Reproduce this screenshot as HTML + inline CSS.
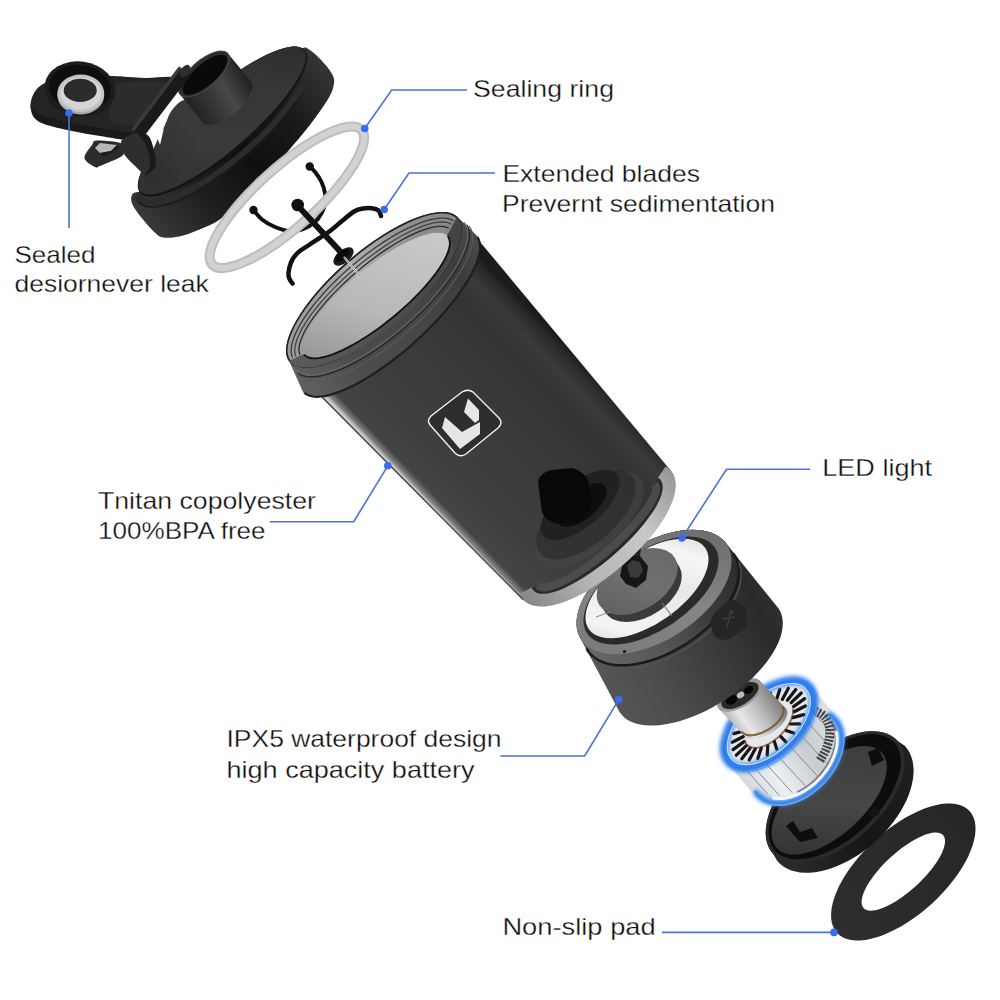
<!DOCTYPE html><html><head><meta charset="utf-8"><style>
html,body{margin:0;padding:0;background:#fff;width:1000px;height:1000px;overflow:hidden}
svg{display:block}
text{font-family:"Liberation Sans",sans-serif;font-size:24px;fill:#0e0e0e;stroke:#ffffff;stroke-width:0.3px}
</style></head><body>
<svg width="1000" height="1000" viewBox="0 0 1000 1000">
<defs>
<filter id="glow" x="-20%" y="-20%" width="140%" height="140%"><feGaussianBlur stdDeviation="2"/></filter>
<linearGradient id="padg" gradientUnits="userSpaceOnUse" x1="840" y1="930" x2="970" y2="810"><stop offset="0" stop-color="#2e2e2e"/><stop offset="1" stop-color="#262626"/></linearGradient>
<linearGradient id="dishside" gradientUnits="userSpaceOnUse" x1="780" y1="860" x2="910" y2="760"><stop offset="0" stop-color="#2a2a2a"/><stop offset="0.5" stop-color="#161616"/><stop offset="1" stop-color="#202020"/></linearGradient>
<linearGradient id="dishfloor" gradientUnits="userSpaceOnUse" x1="790" y1="845" x2="880" y2="760"><stop offset="0" stop-color="#333"/><stop offset="0.45" stop-color="#474747"/><stop offset="1" stop-color="#3c3c3c"/></linearGradient>
<linearGradient id="motorbody" gradientUnits="userSpaceOnUse" x1="740" y1="790" x2="850" y2="720"><stop offset="0" stop-color="#cfd4da"/><stop offset="0.3" stop-color="#eef0f2"/><stop offset="0.6" stop-color="#c8ccd0"/><stop offset="1" stop-color="#e6e8ea"/></linearGradient>
<linearGradient id="housing" gradientUnits="userSpaceOnUse" x1="720" y1="730" x2="780" y2="690"><stop offset="0" stop-color="#8a8a8a"/><stop offset="0.35" stop-color="#e8e8e8"/><stop offset="0.6" stop-color="#bdbdbd"/><stop offset="1" stop-color="#6a6a6a"/></linearGradient>
<linearGradient id="baseside" gradientUnits="userSpaceOnUse" x1="600" y1="700" x2="790" y2="600"><stop offset="0" stop-color="#575757"/><stop offset="0.3" stop-color="#4c4c4c"/><stop offset="0.6" stop-color="#3a3a3a"/><stop offset="0.85" stop-color="#2a2a2a"/><stop offset="1" stop-color="#333"/></linearGradient>
<linearGradient id="baselip" gradientUnits="userSpaceOnUse" x1="578" y1="660" x2="735" y2="545"><stop offset="0" stop-color="#6a6a6a"/><stop offset="0.4" stop-color="#555"/><stop offset="0.7" stop-color="#3a3a3a"/><stop offset="1" stop-color="#2a2a2a"/></linearGradient>
<linearGradient id="ledg" gradientUnits="userSpaceOnUse" x1="590" y1="640" x2="705" y2="545"><stop offset="0" stop-color="#cfcfcf"/><stop offset="0.2" stop-color="#f4f4f4"/><stop offset="0.55" stop-color="#e8e8e8"/><stop offset="0.8" stop-color="#f6f6f6"/><stop offset="1" stop-color="#d8d8d8"/></linearGradient>
<linearGradient id="baserim" gradientUnits="userSpaceOnUse" x1="580" y1="640" x2="720" y2="530"><stop offset="0" stop-color="#7a7a7a"/><stop offset="0.5" stop-color="#858585"/><stop offset="1" stop-color="#6a6a6a"/></linearGradient>
<linearGradient id="discg" gradientUnits="userSpaceOnUse" x1="600" y1="610" x2="675" y2="555"><stop offset="0" stop-color="#5e5e5e"/><stop offset="0.5" stop-color="#707070"/><stop offset="1" stop-color="#686868"/></linearGradient>
<linearGradient id="cupbody" gradientUnits="userSpaceOnUse" x1="420" y1="494" x2="569" y2="350"><stop offset="0" stop-color="#c8c8c8"/><stop offset="0.015" stop-color="#808080"/><stop offset="0.045" stop-color="#444"/><stop offset="0.25" stop-color="#3e3e3e"/><stop offset="0.55" stop-color="#393939"/><stop offset="0.8" stop-color="#333"/><stop offset="0.9" stop-color="#3a3a3a"/><stop offset="0.97" stop-color="#2a2a2a"/><stop offset="1" stop-color="#1c1c1c"/></linearGradient>
<linearGradient id="cupband" gradientUnits="userSpaceOnUse" x1="530" y1="600" x2="675" y2="480"><stop offset="0" stop-color="#8a8a8a"/><stop offset="0.3" stop-color="#b4b4b4"/><stop offset="0.7" stop-color="#c8c8c8"/><stop offset="1" stop-color="#9a9a9a"/></linearGradient>
<linearGradient id="neckg" gradientUnits="userSpaceOnUse" x1="290" y1="370" x2="470" y2="230"><stop offset="0" stop-color="#606060"/><stop offset="0.25" stop-color="#4c4c4c"/><stop offset="0.6" stop-color="#464646"/><stop offset="0.85" stop-color="#3c3c3c"/><stop offset="1" stop-color="#4a4a4a"/></linearGradient>
<linearGradient id="frontband" gradientUnits="userSpaceOnUse" x1="300" y1="360" x2="450" y2="240"><stop offset="0" stop-color="#5a5a5a"/><stop offset="0.5" stop-color="#4e4e4e"/><stop offset="1" stop-color="#444"/></linearGradient>
<linearGradient id="openg" gradientUnits="userSpaceOnUse" x1="310" y1="330" x2="430" y2="250"><stop offset="0" stop-color="#9a9a9a"/><stop offset="0.4" stop-color="#b8b8b8"/><stop offset="1" stop-color="#c8c8c8"/></linearGradient>
<linearGradient id="rimband" gradientUnits="userSpaceOnUse" x1="300" y1="260" x2="420" y2="330"><stop offset="0" stop-color="#9c9c9c"/><stop offset="0.5" stop-color="#acacac"/><stop offset="1" stop-color="#8a8a8a"/></linearGradient>
<linearGradient id="capsil" gradientUnits="userSpaceOnUse" x1="150" y1="232" x2="332" y2="70"><stop offset="0" stop-color="#3a3a3a"/><stop offset="0.25" stop-color="#202020"/><stop offset="0.5" stop-color="#0f0f0f"/><stop offset="0.75" stop-color="#1a1a1a"/><stop offset="1" stop-color="#363636"/></linearGradient>
<linearGradient id="capflange" gradientUnits="userSpaceOnUse" x1="140" y1="200" x2="330" y2="80"><stop offset="0" stop-color="#333"/><stop offset="0.5" stop-color="#262626"/><stop offset="1" stop-color="#1e1e1e"/></linearGradient>
<linearGradient id="capdomeside" gradientUnits="userSpaceOnUse" x1="170" y1="190" x2="320" y2="80"><stop offset="0" stop-color="#2a2a2a"/><stop offset="0.4" stop-color="#1c1c1c"/><stop offset="0.75" stop-color="#121212"/><stop offset="1" stop-color="#1a1a1a"/></linearGradient>
<linearGradient id="capdome" gradientUnits="userSpaceOnUse" x1="150" y1="185" x2="300" y2="55"><stop offset="0" stop-color="#2e2e2e"/><stop offset="0.35" stop-color="#3a3a3a"/><stop offset="0.7" stop-color="#363636"/><stop offset="1" stop-color="#2a2a2a"/></linearGradient>
<linearGradient id="spoutg" gradientUnits="userSpaceOnUse" x1="190" y1="118" x2="255" y2="80"><stop offset="0" stop-color="#1c1c1c"/><stop offset="0.35" stop-color="#353535"/><stop offset="0.6" stop-color="#484848"/><stop offset="0.85" stop-color="#2a2a2a"/><stop offset="1" stop-color="#1a1a1a"/></linearGradient>
</defs>
<rect width="1000" height="1000" fill="#fff"/>
<path d="M969.5,811.1 L971.8,814.0 L973.5,817.5 L974.8,821.3 L975.4,825.5 L975.5,830.0 L975.1,834.9 L974.1,840.1 L972.6,845.5 L970.5,851.1 L968.0,856.9 L964.9,862.7 L961.4,868.7 L957.4,874.7 L953.1,880.6 L948.3,886.5 L943.2,892.3 L937.8,897.9 L932.1,903.4 L926.3,908.5 L920.2,913.5 L914.0,918.1 L907.7,922.3 L901.4,926.2 L895.1,929.6 L888.9,932.6 L882.8,935.2 L876.8,937.2 L871.1,938.8 L865.6,939.9 L860.3,940.4 L855.4,940.5 L850.9,940.0 L846.8,939.0 L843.1,937.4 L839.8,935.4 L837.1,932.9 L834.8,930.0 L833.1,926.5 L831.8,922.7 L831.2,918.5 L831.1,914.0 L831.5,909.1 L832.5,903.9 L834.0,898.5 L836.1,892.9 L838.6,887.1 L841.7,881.3 L845.2,875.3 L849.2,869.3 L853.5,863.4 L858.3,857.5 L863.4,851.7 L868.8,846.1 L874.5,840.6 L880.3,835.5 L886.4,830.5 L892.6,825.9 L898.9,821.7 L905.2,817.8 L911.5,814.4 L917.7,811.4 L923.8,808.8 L929.8,806.8 L935.5,805.2 L941.0,804.1 L946.3,803.6 L951.2,803.5 L955.7,804.0 L959.8,805.0 L963.5,806.6 L966.8,808.6 L969.5,811.1Z M943.0,835.1 L944.0,836.5 L944.6,838.1 L945.0,840.0 L945.0,842.1 L944.7,844.5 L944.1,847.0 L943.2,849.8 L942.0,852.7 L940.5,855.7 L938.7,858.9 L936.6,862.2 L934.3,865.5 L931.8,868.9 L929.0,872.3 L926.1,875.7 L922.9,879.1 L919.6,882.4 L916.2,885.7 L912.7,888.8 L909.1,891.8 L905.5,894.6 L901.9,897.3 L898.2,899.8 L894.7,902.0 L891.1,904.0 L887.7,905.8 L884.4,907.3 L881.2,908.6 L878.2,909.5 L875.4,910.2 L872.8,910.6 L870.4,910.7 L868.3,910.5 L866.5,910.0 L864.9,909.2 L863.6,908.1 L862.6,906.7 L862.0,905.1 L861.6,903.2 L861.6,901.1 L861.9,898.7 L862.5,896.2 L863.4,893.4 L864.6,890.5 L866.1,887.5 L867.9,884.3 L870.0,881.0 L872.3,877.7 L874.8,874.3 L877.6,870.9 L880.5,867.5 L883.7,864.1 L887.0,860.8 L890.4,857.5 L893.9,854.4 L897.5,851.4 L901.1,848.6 L904.7,845.9 L908.4,843.4 L911.9,841.2 L915.5,839.2 L918.9,837.4 L922.2,835.9 L925.4,834.6 L928.4,833.7 L931.2,833.0 L933.8,832.6 L936.2,832.5 L938.3,832.7 L940.1,833.2 L941.7,834.0 L943.0,835.1Z" fill="url(#padg)" fill-rule="evenodd"/>
<polygon points="772.9,853.6 770.7,850.8 768.9,847.6 767.4,844.1 766.4,840.4 765.8,836.3 765.7,832.0 766.0,827.5 766.7,822.8 767.8,818.0 769.3,813.0 771.3,808.0 773.6,802.8 776.3,797.6 779.4,792.5 782.8,787.3 786.5,782.2 790.6,777.3 794.9,772.4 799.5,767.7 804.3,763.1 809.2,758.8 814.4,754.7 819.6,750.9 825.0,747.4 830.4,744.1 835.9,741.2 841.3,738.7 846.7,736.5 852.1,734.7 857.3,733.2 862.4,732.2 867.3,731.5 872.1,731.3 876.6,731.5 880.8,732.0 884.8,733.0 888.5,734.4 891.8,736.2 894.8,738.3 897.4,740.8 905.0,746.0 907.5,749.2 909.6,752.6 911.2,756.4 912.5,760.5 913.2,764.9 913.6,769.4 913.5,774.2 912.9,779.2 911.9,784.4 910.5,789.6 908.7,795.0 906.4,800.4 903.7,805.8 900.7,811.2 897.3,816.5 893.5,821.8 889.4,827.0 885.0,832.0 880.4,836.9 875.5,841.5 870.4,845.9 865.1,850.1 859.7,854.0 854.1,857.5 848.5,860.7 842.8,863.6 837.2,866.1 831.5,868.3 825.9,870.0 820.4,871.3 815.1,872.2 809.9,872.7 804.8,872.8 800.1,872.4 795.5,871.6 791.3,870.4 787.3,868.8 783.7,866.8 780.5,864.3 777.6,861.6" fill="url(#dishside)" />
<ellipse cx="835.2" cy="797.2" rx="84.0" ry="46.0" transform="rotate(-42.2 835.2 797.2)" fill="#2a2a2a" />
<ellipse cx="834.7" cy="796.7" rx="80.5" ry="42.5" transform="rotate(-42.2 834.7 796.7)" fill="#0c0c0c" />
<ellipse cx="829.2" cy="800.2" rx="71.0" ry="35.0" transform="rotate(-42.2 829.2 800.2)" fill="url(#dishfloor)" />
<polygon points="786.0,826.0 793.0,821.0 800.0,832.0 812.0,828.0 818.0,838.0 800.0,842.0" fill="#0e0e0e" />
<polygon points="868.0,752.0 878.0,748.0 884.0,760.0 872.0,766.0" fill="#0e0e0e" />
<polygon points="868.0,812.0 876.0,806.0 880.0,814.0 872.0,818.0" fill="#141414" />
<polygon points="727.7,763.6 726.0,761.6 724.7,759.5 723.6,757.1 722.8,754.5 722.3,751.7 722.1,748.8 722.1,745.7 722.5,742.4 723.1,739.1 724.0,735.7 725.2,732.2 726.7,728.6 728.4,725.0 730.4,721.4 732.6,717.9 735.0,714.3 737.7,710.9 740.5,707.5 743.5,704.2 746.7,701.0 749.9,698.0 753.4,695.1 756.9,692.4 760.4,689.9 764.1,687.7 767.7,685.6 771.4,683.8 775.1,682.2 778.7,680.9 782.2,679.9 785.7,679.1 789.1,678.6 792.3,678.4 795.4,678.5 798.3,678.8 801.1,679.4 803.6,680.3 806.0,681.5 808.1,683.0 809.9,684.6 835.5,715.7 837.6,717.9 839.4,720.4 841.0,723.1 842.3,726.0 843.3,729.1 844.0,732.4 844.5,735.8 844.6,739.4 844.4,743.0 843.9,746.8 843.2,750.6 842.1,754.4 840.8,758.3 839.2,762.1 837.3,766.0 835.2,769.7 832.8,773.4 830.2,777.0 827.4,780.4 824.4,783.7 821.2,786.9 817.9,789.8 814.4,792.6 810.9,795.1 807.2,797.4 803.5,799.5 799.7,801.3 795.9,802.8 792.1,804.0 788.3,804.9 784.6,805.6 781.0,805.9 777.4,806.0 774.0,805.7 770.7,805.1 767.5,804.2 764.6,803.1 761.8,801.6 759.2,799.9 756.9,797.9" fill="url(#motorbody)" />
<line x1="809.1" y1="697.4" x2="833.4" y2="725.5" stroke="#7a7e84" stroke-width="0.9"/>
<line x1="809.4" y1="708.0" x2="835.2" y2="737.0" stroke="#7a7e84" stroke-width="0.9"/>
<line x1="805.7" y1="720.1" x2="832.8" y2="750.0" stroke="#7a7e84" stroke-width="0.9"/>
<line x1="798.4" y1="732.6" x2="826.6" y2="763.3" stroke="#7a7e84" stroke-width="0.9"/>
<line x1="788.2" y1="744.3" x2="817.1" y2="775.6" stroke="#7a7e84" stroke-width="0.9"/>
<line x1="776.1" y1="754.0" x2="805.2" y2="785.7" stroke="#7a7e84" stroke-width="0.9"/>
<line x1="763.3" y1="760.8" x2="792.2" y2="792.5" stroke="#7a7e84" stroke-width="0.9"/>
<line x1="751.0" y1="764.0" x2="779.3" y2="795.4" stroke="#7a7e84" stroke-width="0.9"/>
<line x1="740.5" y1="763.3" x2="767.7" y2="794.2" stroke="#7a7e84" stroke-width="0.9"/>
<path d="M811.8,710.5 L813.2,710.7 L814.5,711.0 L815.9,711.4 L817.1,711.8 L818.4,712.3 L819.5,712.9 L820.7,713.5 L821.7,714.2 L822.7,715.0 L823.7,715.8 L824.6,716.7 L825.4,717.7 L826.1,718.7 L826.8,719.8 L827.4,721.0 L828.0,722.2 L828.5,723.4 L828.9,724.7 L829.2,726.1 L829.5,727.5 L829.7,728.9 L829.8,730.4 L829.9,731.9 L829.8,733.5 L829.7,735.0 L829.6,736.6 L829.3,738.3 L829.0,739.9 L828.6,741.6 L828.1,743.3 L827.6,745.0 L827.0,746.7 L826.3,748.4 L825.6,750.2 L824.8,751.9 L823.9,753.6 L823.0,755.3 L822.0,757.0 L821.0,758.7 L819.9,760.4" fill="none" stroke="#2a2a2a" stroke-width="9" stroke-dasharray="2 1.5" opacity="0.85"/>
<path d="M832.4,723.2 L833.2,724.6 L833.9,726.1 L834.5,727.6 L835.0,729.2 L835.4,730.9 L835.8,732.6 L836.0,734.4 L836.1,736.2 L836.2,738.1 L836.1,740.0 L836.0,741.9 L835.7,743.9 L835.4,745.9 L835.0,747.9 L834.4,750.0 L833.8,752.0 L833.1,754.0 L832.3,756.1 L831.4,758.1 L830.4,760.2 L829.4,762.2 L828.2,764.2 L827.0,766.2 L825.7,768.2 L824.3,770.1 L822.9,772.0 L821.4,773.9 L819.8,775.7 L818.2,777.4 L816.5,779.2 L814.8,780.8 L813.0,782.4 L811.2,783.9 L809.3,785.4 L807.4,786.8 L805.5,788.1 L803.6,789.4 L801.6,790.5 L799.6,791.6 L797.6,792.6" fill="none" stroke="#444" stroke-width="3" opacity="0.6"/>
<path d="M828.4,714.0 L831.1,715.7 L833.5,717.8 L835.6,720.1 L837.5,722.7 L839.0,725.5 L840.2,728.6 L841.0,731.9 L841.5,735.4 L841.7,739.1 L841.5,742.9 L841.0,746.8 L840.1,750.8 L838.9,754.8 L837.4,758.8 L835.6,762.8 L833.4,766.8 L831.0,770.7 L828.3,774.5 L825.4,778.2 L822.2,781.7 L818.9,785.0 L815.4,788.1 L811.7,790.9 L807.9,793.5 L804.0,795.8 L800.1,797.9 L796.1,799.6 L792.2,800.9 L788.2,802.0 L784.4,802.7 L780.6,803.0 L776.9,803.0 L773.4,802.7 L770.0,802.0 L766.9,800.9 L764.0,799.6 L761.3,797.9 L758.9,795.8 L756.8,793.5 L754.9,790.9" fill="none" stroke="#2f80ea" stroke-width="6" filter="url(#glow)"/>
<path d="M828.4,714.0 L831.1,715.7 L833.5,717.8 L835.6,720.1 L837.5,722.7 L839.0,725.5 L840.2,728.6 L841.0,731.9 L841.5,735.4 L841.7,739.1 L841.5,742.9 L841.0,746.8 L840.1,750.8 L838.9,754.8 L837.4,758.8 L835.6,762.8 L833.4,766.8 L831.0,770.7 L828.3,774.5 L825.4,778.2 L822.2,781.7 L818.9,785.0 L815.4,788.1 L811.7,790.9 L807.9,793.5 L804.0,795.8 L800.1,797.9 L796.1,799.6 L792.2,800.9 L788.2,802.0 L784.4,802.7 L780.6,803.0 L776.9,803.0 L773.4,802.7 L770.0,802.0 L766.9,800.9 L764.0,799.6 L761.3,797.9 L758.9,795.8 L756.8,793.5 L754.9,790.9" fill="none" stroke="#3d8af0" stroke-width="2.5"/>
<path d="M835.9,731.1 L836.5,733.1 L836.9,735.3 L837.1,737.5 L837.2,739.8 L837.1,742.2 L836.9,744.6 L836.6,747.0 L836.0,749.5 L835.4,752.0 L834.6,754.6 L833.6,757.1 L832.5,759.7 L831.3,762.2 L829.9,764.7 L828.4,767.2 L826.8,769.7 L825.1,772.1 L823.3,774.4 L821.4,776.7 L819.3,778.9 L817.2,781.0 L815.0,783.1 L812.8,785.0 L810.5,786.8 L808.1,788.5 L805.7,790.1 L803.2,791.6 L800.7,793.0 L798.2,794.2 L795.7,795.2 L793.2,796.2 L790.7,796.9 L788.3,797.6 L785.8,798.0 L783.4,798.4 L781.1,798.5 L778.8,798.5 L776.5,798.4 L774.4,798.1 L772.3,797.7" fill="none" stroke="#f4f8fc" stroke-width="3"/>
<ellipse cx="768.8" cy="724.1" rx="54.0" ry="29.5" transform="rotate(-43.8 768.8 724.1)" fill="#e6e9ec" />
<line x1="791.2" y1="702.6" x2="801.3" y2="693.0" stroke="#151515" stroke-width="3.2" stroke-linecap="round"/>
<line x1="793.5" y1="706.6" x2="804.6" y2="698.6" stroke="#151515" stroke-width="3.2" stroke-linecap="round"/>
<line x1="794.1" y1="711.7" x2="805.4" y2="706.0" stroke="#151515" stroke-width="3.2" stroke-linecap="round"/>
<line x1="792.9" y1="717.6" x2="803.8" y2="714.6" stroke="#151515" stroke-width="3.2" stroke-linecap="round"/>
<line x1="790.2" y1="724.0" x2="799.7" y2="723.8" stroke="#151515" stroke-width="3.2" stroke-linecap="round"/>
<line x1="786.0" y1="730.4" x2="793.6" y2="733.1" stroke="#151515" stroke-width="3.2" stroke-linecap="round"/>
<line x1="780.6" y1="736.4" x2="785.8" y2="741.8" stroke="#151515" stroke-width="3.2" stroke-linecap="round"/>
<line x1="774.4" y1="741.5" x2="776.8" y2="749.2" stroke="#151515" stroke-width="3.2" stroke-linecap="round"/>
<line x1="767.8" y1="745.5" x2="767.2" y2="755.0" stroke="#151515" stroke-width="3.2" stroke-linecap="round"/>
<line x1="761.3" y1="747.9" x2="757.8" y2="758.6" stroke="#151515" stroke-width="3.2" stroke-linecap="round"/>
<line x1="755.3" y1="748.8" x2="749.2" y2="759.9" stroke="#151515" stroke-width="3.2" stroke-linecap="round"/>
<line x1="750.2" y1="748.0" x2="741.8" y2="758.8" stroke="#151515" stroke-width="3.2" stroke-linecap="round"/>
<line x1="746.4" y1="745.6" x2="736.3" y2="755.2" stroke="#151515" stroke-width="3.2" stroke-linecap="round"/>
<line x1="744.1" y1="741.6" x2="733.0" y2="749.6" stroke="#151515" stroke-width="3.2" stroke-linecap="round"/>
<line x1="743.5" y1="736.5" x2="732.2" y2="742.2" stroke="#151515" stroke-width="3.2" stroke-linecap="round"/>
<line x1="744.7" y1="730.6" x2="733.8" y2="733.6" stroke="#151515" stroke-width="3.2" stroke-linecap="round"/>
<line x1="747.4" y1="724.2" x2="737.9" y2="724.4" stroke="#151515" stroke-width="3.2" stroke-linecap="round"/>
<line x1="751.6" y1="717.8" x2="744.0" y2="715.1" stroke="#151515" stroke-width="3.2" stroke-linecap="round"/>
<line x1="757.0" y1="711.8" x2="751.8" y2="706.4" stroke="#151515" stroke-width="3.2" stroke-linecap="round"/>
<line x1="763.2" y1="706.7" x2="760.8" y2="699.0" stroke="#151515" stroke-width="3.2" stroke-linecap="round"/>
<line x1="769.8" y1="702.7" x2="770.4" y2="693.2" stroke="#151515" stroke-width="3.2" stroke-linecap="round"/>
<line x1="776.3" y1="700.3" x2="779.8" y2="689.6" stroke="#151515" stroke-width="3.2" stroke-linecap="round"/>
<line x1="782.3" y1="699.4" x2="788.4" y2="688.3" stroke="#151515" stroke-width="3.2" stroke-linecap="round"/>
<line x1="787.4" y1="700.2" x2="795.8" y2="689.4" stroke="#151515" stroke-width="3.2" stroke-linecap="round"/>
<path d="M792.9,708.5 L793.1,710.0 L793.1,711.5 L793.0,713.2 L792.7,714.8 L792.2,716.6 L791.7,718.4 L790.9,720.2 L790.1,722.1 L789.1,723.9 L788.0,725.8 L786.8,727.6 L785.4,729.5 L784.0,731.3 L782.4,733.0 L780.8,734.7 L779.1,736.4 L777.4,737.9 L775.5,739.4 L773.7,740.8 L771.8,742.1 L769.9,743.2 L768.0,744.3 L766.1,745.2 L764.2,746.0 L762.3,746.6 L760.5,747.2 L758.7,747.5 L757.0,747.8 L755.4,747.9 L753.9,747.8 L752.4,747.6 L751.0,747.2 L749.8,746.7 L748.7,746.1 L747.7,745.3 L746.8,744.4 L746.0,743.4 L745.4,742.3 L745.0,741.0 L744.7,739.7" fill="none" stroke="#6a2a1a" stroke-width="2" opacity="0.6"/>
<ellipse cx="768.8" cy="724.1" rx="55.0" ry="30.0" transform="rotate(-43.8 768.8 724.1)" fill="none" stroke="#1e6ee6" stroke-width="8" filter="url(#glow)"/>
<ellipse cx="768.8" cy="724.1" rx="54.5" ry="29.5" transform="rotate(-43.8 768.8 724.1)" fill="none" stroke="#2d7ff0" stroke-width="4"/>
<ellipse cx="768.8" cy="724.1" rx="51.0" ry="27.5" transform="rotate(-43.8 768.8 724.1)" fill="none" stroke="#bcdcff" stroke-width="1.2"/>
<ellipse cx="769.8" cy="725.1" rx="58.0" ry="33.0" transform="rotate(-43.8 769.8 725.1)" fill="none" stroke="#5a9cf2" stroke-width="1.5" opacity="0.7"/>
<polygon points="718.1,707.9 717.6,707.0 717.3,706.0 717.2,705.0 717.1,703.9 717.2,702.8 717.5,701.6 717.9,700.4 718.4,699.1 719.0,697.8 719.8,696.5 720.7,695.2 721.7,693.9 722.8,692.6 724.0,691.3 725.4,690.0 726.8,688.8 728.2,687.6 729.8,686.4 731.4,685.3 733.1,684.3 734.8,683.3 736.5,682.4 738.2,681.6 740.0,680.8 741.8,680.2 743.5,679.6 745.2,679.1 746.9,678.8 748.5,678.5 750.1,678.3 751.6,678.3 753.1,678.3 754.4,678.4 755.7,678.7 756.8,679.0 757.9,679.4 758.8,680.0 759.7,680.6 760.4,681.3 760.9,682.1 786.4,709.1 786.9,710.0 787.2,711.0 787.3,712.0 787.4,713.1 787.3,714.2 787.0,715.4 786.6,716.6 786.1,717.9 785.5,719.2 784.7,720.5 783.8,721.8 782.8,723.1 781.7,724.4 780.5,725.7 779.1,727.0 777.7,728.2 776.3,729.4 774.7,730.6 773.1,731.7 771.4,732.7 769.7,733.7 768.0,734.6 766.3,735.4 764.5,736.2 762.7,736.8 761.0,737.4 759.3,737.9 757.6,738.2 756.0,738.5 754.4,738.7 752.9,738.7 751.4,738.7 750.1,738.6 748.8,738.3 747.7,738.0 746.6,737.6 745.7,737.0 744.8,736.4 744.1,735.7 743.6,734.9" fill="url(#housing)" />
<path d="M782.7,706.8 L783.2,707.7 L783.5,708.6 L783.6,709.6 L783.6,710.6 L783.5,711.7 L783.3,712.8 L782.9,714.0 L782.4,715.2 L781.8,716.5 L781.1,717.7 L780.2,719.0 L779.3,720.2 L778.2,721.5 L777.0,722.7 L775.8,723.9 L774.4,725.1 L773.0,726.3 L771.5,727.4 L769.9,728.5 L768.4,729.5 L766.7,730.4 L765.1,731.3 L763.4,732.1 L761.7,732.8 L760.0,733.4 L758.3,733.9 L756.7,734.4 L755.1,734.8 L753.5,735.0 L752.0,735.2 L750.5,735.3 L749.2,735.2 L747.9,735.1 L746.6,734.9 L745.5,734.5 L744.5,734.1 L743.6,733.6 L742.8,733.0 L742.1,732.3 L741.6,731.5" fill="none" stroke="#7a5228" stroke-width="2.2" opacity="0.85"/>
<ellipse cx="739.5" cy="695.0" rx="25.0" ry="12.5" transform="rotate(-31.0 739.5 695.0)" fill="#9a9a9a" />
<ellipse cx="740.0" cy="695.5" rx="21.0" ry="9.5" transform="rotate(-31.0 740.0 695.5)" fill="#2a2a2a" />
<ellipse cx="731.5" cy="700.0" rx="6.0" ry="4.5" transform="rotate(-31.0 731.5 700.0)" fill="#050505" />
<ellipse cx="748.5" cy="690.0" rx="5.0" ry="3.5" transform="rotate(-31.0 748.5 690.0)" fill="#050505" />
<ellipse cx="740.5" cy="695.0" rx="4.0" ry="3.0" transform="rotate(-31.0 740.5 695.0)" fill="#bbbbbb" />
<polygon points="581.0,639.4 579.2,636.1 577.8,632.5 576.9,628.7 576.5,624.6 576.6,620.4 577.1,615.9 578.1,611.4 579.6,606.7 581.5,601.9 583.9,597.0 586.7,592.2 590.0,587.3 593.6,582.4 597.6,577.6 601.9,572.9 606.6,568.4 611.5,563.9 616.8,559.7 622.2,555.6 627.9,551.7 633.7,548.2 639.6,544.8 645.6,541.8 651.7,539.1 657.8,536.7 663.8,534.6 669.8,532.9 675.7,531.6 681.5,530.6 687.1,530.0 692.5,529.8 697.7,530.0 702.6,530.6 707.1,531.5 711.4,532.8 715.3,534.5 718.8,536.5 722.0,538.9 724.7,541.6 727.0,544.6 778.8,608.8 780.6,612.0 781.8,615.6 782.6,619.4 782.8,623.5 782.5,627.8 781.8,632.3 780.5,636.9 778.7,641.8 776.4,646.7 773.6,651.7 770.4,656.8 766.7,661.9 762.7,667.0 758.2,672.1 753.4,677.1 748.2,682.0 742.8,686.7 737.0,691.3 731.1,695.7 724.9,699.9 718.6,703.8 712.2,707.5 705.6,710.9 699.1,714.0 692.5,716.7 686.0,719.1 679.6,721.2 673.3,722.8 667.1,724.1 661.2,725.0 655.5,725.5 650.0,725.6 644.9,725.3 640.1,724.6 635.7,723.5 631.6,722.0 628.0,720.2 624.8,717.9 622.1,715.3 619.8,712.4" fill="url(#baseside)" />
<polygon points="581.0,639.4 579.2,636.1 577.8,632.5 576.9,628.7 576.5,624.6 576.6,620.4 577.1,615.9 578.1,611.4 579.6,606.7 581.5,601.9 583.9,597.0 586.7,592.2 590.0,587.3 593.6,582.4 597.6,577.6 601.9,572.9 606.6,568.4 611.5,563.9 616.8,559.7 622.2,555.6 627.9,551.7 633.7,548.2 639.6,544.8 645.6,541.8 651.7,539.1 657.8,536.7 663.8,534.6 669.8,532.9 675.7,531.6 681.5,530.6 687.1,530.0 692.5,529.8 697.7,530.0 702.6,530.6 707.1,531.5 711.4,532.8 715.3,534.5 718.8,536.5 722.0,538.9 724.7,541.6 727.0,544.6 734.5,555.2 736.3,558.6 737.7,562.1 738.5,566.0 739.0,570.0 738.9,574.3 738.3,578.7 737.3,583.3 735.8,588.0 733.9,592.8 731.5,597.7 728.6,602.6 725.4,607.5 721.7,612.3 717.7,617.1 713.3,621.9 708.6,626.5 703.6,630.9 698.4,635.2 692.9,639.3 687.2,643.2 681.4,646.8 675.4,650.1 669.4,653.2 663.3,655.9 657.2,658.3 651.1,660.4 645.0,662.1 639.1,663.5 633.3,664.5 627.7,665.1 622.3,665.3 617.1,665.1 612.2,664.6 607.6,663.6 603.3,662.3 599.4,660.7 595.8,658.6 592.7,656.3 590.0,653.6 587.7,650.6" fill="url(#baselip)" />
<path d="M733.0,553.2 L735.2,556.4 L736.9,560.0 L738.1,563.8 L738.8,567.8 L739.0,572.1 L738.6,576.6 L737.8,581.3 L736.5,586.1 L734.6,591.0 L732.3,596.0 L729.5,601.1 L726.3,606.2 L722.6,611.2 L718.5,616.2 L714.1,621.1 L709.3,625.9 L704.1,630.5 L698.7,634.9 L693.1,639.2 L687.2,643.2 L681.2,646.9 L675.0,650.3 L668.8,653.5 L662.5,656.3 L656.1,658.7 L649.8,660.8 L643.6,662.5 L637.5,663.8 L631.6,664.7 L625.8,665.2 L620.3,665.3 L615.1,664.9 L610.1,664.2 L605.5,663.1 L601.3,661.5 L597.4,659.6 L594.0,657.3 L591.0,654.7 L588.5,651.7 L586.4,648.4" fill="none" stroke="#1a1a1a" stroke-width="2.5"/>
<path d="M738.6,562.3 L739.9,565.7 L740.7,569.3 L741.1,573.1 L741.1,577.2 L740.6,581.3 L739.8,585.6 L738.5,590.0 L736.7,594.6 L734.6,599.1 L732.1,603.7 L729.2,608.4 L726.0,613.0 L722.4,617.6 L718.4,622.1 L714.2,626.5 L709.7,630.8 L705.0,635.0 L700.0,639.0 L694.8,642.9 L689.4,646.5 L683.9,649.9 L678.3,653.1 L672.6,656.0 L666.8,658.7 L661.0,661.0 L655.3,663.1 L649.5,664.9 L643.9,666.3 L638.4,667.4 L633.0,668.1 L627.7,668.6 L622.7,668.6 L617.9,668.4 L613.3,667.8 L609.0,666.8 L605.0,665.5 L601.3,663.9 L598.0,662.0 L595.0,659.8 L592.4,657.2" fill="none" stroke="#555" stroke-width="1.2"/>
<ellipse cx="654.0" cy="592.0" rx="87.0" ry="48.0" transform="rotate(-33.0 654.0 592.0)" fill="url(#baserim)" />
<ellipse cx="651.0" cy="590.5" rx="77.0" ry="39.5" transform="rotate(-34.0 651.0 590.5)" fill="#2a2a2a" />
<ellipse cx="647.0" cy="588.5" rx="71.0" ry="35.0" transform="rotate(-35.0 647.0 588.5)" fill="url(#ledg)" />
<polygon points="600.4,604.8 599.4,602.9 598.6,600.9 598.0,598.7 597.7,596.5 597.6,594.1 597.8,591.7 598.2,589.2 598.8,586.7 599.7,584.2 600.8,581.6 602.2,579.0 603.8,576.5 605.5,573.9 607.5,571.5 609.6,569.0 611.9,566.7 614.4,564.5 617.0,562.3 619.8,560.3 622.6,558.4 625.5,556.7 628.5,555.1 631.6,553.6 634.7,552.4 637.8,551.3 640.9,550.4 644.0,549.7 647.0,549.2 650.0,548.9 652.9,548.8 655.7,548.9 658.4,549.2 661.0,549.7 663.4,550.4 665.6,551.3 667.7,552.4 669.6,553.6 671.3,555.1 672.8,556.7 674.0,558.4 678.9,566.0 679.9,567.9 680.7,569.9 681.3,572.0 681.6,574.3 681.7,576.6 681.5,579.0 681.1,581.5 680.5,584.0 679.6,586.6 678.5,589.2 677.1,591.7 675.6,594.3 673.8,596.8 671.8,599.3 669.7,601.7 667.4,604.0 664.9,606.3 662.3,608.4 659.5,610.4 656.7,612.3 653.8,614.1 650.8,615.7 647.7,617.1 644.6,618.4 641.5,619.4 638.4,620.3 635.3,621.0 632.3,621.5 629.3,621.8 626.4,621.9 623.6,621.8 620.9,621.5 618.3,621.0 615.9,620.3 613.7,619.4 611.6,618.4 609.7,617.1 608.0,615.7 606.6,614.1 605.3,612.3" fill="#3a3a3a" />
<ellipse cx="637.2" cy="581.6" rx="44.5" ry="28.0" transform="rotate(-32.2 637.2 581.6)" fill="url(#discg)" />
<path d="M596,617 L610,612" stroke="#888" stroke-width="1"/><path d="M662,603 L672,616" stroke="#777" stroke-width="1.2"/>
<path d="M622,566 L628,555 L640,556 L648,566 L646,580 L636,588 L626,584 L620,576 Z" fill="#161616"/>
<path d="M627,566 L632,560 L640,562 L643,571 L638,578 L630,577 Z" fill="#3a3a3a"/>
<path d="M631,548 L636,545 L641,549 L640,556 L633,557 Z" fill="#222"/>
<circle cx="624.5" cy="651.5" r="1.6" fill="#111"/>
<path d="M712.0,617.0 C713.5,613.2 717.8,609.8 721.0,607.0 C724.2,604.2 727.8,600.7 731.0,600.0 C734.2,599.3 737.5,601.3 740.0,603.0 C742.5,604.7 745.1,607.2 746.0,610.0 C746.9,612.8 745.7,617.0 745.5,620.0 C745.3,623.0 746.8,625.5 745.0,628.0 C743.2,630.5 738.3,633.0 735.0,635.0 C731.7,637.0 728.2,639.7 725.0,640.0 C721.8,640.3 718.2,638.7 716.0,637.0 C713.8,635.3 712.7,633.3 712.0,630.0 C711.3,626.7 710.5,620.8 712.0,617.0Z" fill="#252525"/>
<path d="M731,610 L727,628 M722,619 L735,617 M731,610 L733,614" stroke="#3c3c3c" stroke-width="1.6" fill="none"/>
<polygon points="319.2,394.6 317.4,392.3 316.2,389.6 315.5,386.4 315.3,382.8 315.7,378.8 316.5,374.4 317.9,369.7 319.7,364.7 322.0,359.3 324.9,353.7 328.1,347.9 331.8,341.9 336.0,335.7 340.5,329.4 345.3,323.1 350.5,316.7 356.0,310.3 361.8,304.0 367.8,297.7 374.0,291.6 380.3,285.6 386.8,279.9 393.3,274.3 399.9,269.0 406.5,264.1 413.0,259.4 419.4,255.1 425.7,251.2 431.8,247.7 437.8,244.7 443.5,242.0 448.9,239.9 454.0,238.2 458.8,237.0 463.2,236.4 467.2,236.2 470.8,236.5 474.0,237.3 476.6,238.6 478.8,240.4 670.7,470.6 672.5,473.2 673.9,476.1 674.7,479.4 675.2,483.1 675.1,487.1 674.5,491.3 673.5,495.9 672.0,500.6 670.0,505.6 667.6,510.8 664.7,516.1 661.4,521.5 657.7,527.0 653.7,532.6 649.2,538.2 644.5,543.7 639.5,549.2 634.2,554.7 628.7,560.0 622.9,565.1 617.1,570.0 611.0,574.8 605.0,579.3 598.8,583.5 592.6,587.4 586.5,591.0 580.4,594.2 574.5,597.1 568.6,599.6 563.0,601.7 557.5,603.4 552.3,604.7 547.3,605.5 542.7,605.9 538.4,605.9 534.5,605.4 530.9,604.5 527.8,603.1 525.0,601.4 522.7,599.2" fill="url(#cupbody)" />
<path d="M661.7,472.3 L664.1,473.9 L666.0,476.0 L667.4,478.5 L668.3,481.4 L668.7,484.7 L668.5,488.4 L667.9,492.4 L666.7,496.7 L664.9,501.3 L662.7,506.2 L660.0,511.2 L656.9,516.5 L653.3,521.8 L649.3,527.3 L644.9,532.8 L640.1,538.3 L635.1,543.8 L629.7,549.3 L624.1,554.6 L618.3,559.8 L612.4,564.8 L606.3,569.6 L600.2,574.1 L594.1,578.4 L587.9,582.3 L581.8,585.9 L575.9,589.1 L570.1,591.9 L564.5,594.3 L559.1,596.3 L554.0,597.8 L549.2,598.9 L544.7,599.5 L540.7,599.6 L537.0,599.2 L533.8,598.4 L531.0,597.1 L528.7,595.4 L527.0,593.2 L525.7,590.6" fill="none" stroke="url(#cupband)" stroke-width="14"/>
<path d="M657.3,479.4 L658.9,480.7 L660.0,482.4 L660.7,484.5 L661.0,486.9 L660.8,489.6 L660.2,492.6 L659.2,496.0 L657.7,499.6 L655.8,503.4 L653.5,507.5 L650.8,511.7 L647.7,516.1 L644.3,520.7 L640.5,525.3 L636.5,530.0 L632.2,534.8 L627.6,539.5 L622.8,544.2 L617.9,548.8 L612.8,553.4 L607.6,557.8 L602.3,562.1 L597.0,566.1 L591.6,570.0 L586.3,573.6 L581.1,577.0 L576.0,580.0 L571.0,582.8 L566.2,585.2 L561.7,587.3 L557.3,589.0 L553.2,590.4 L549.5,591.3 L546.0,591.9 L542.9,592.1 L540.2,591.9 L537.8,591.3 L535.9,590.3 L534.4,588.9 L533.3,587.2" fill="none" stroke="#2a2a2a" stroke-width="3.5"/>
<path d="M654.8,484.4 L655.6,485.7 L656.0,487.2 L656.1,489.1 L655.8,491.3 L655.2,493.7 L654.1,496.4 L652.8,499.3 L651.0,502.5 L649.0,505.8 L646.6,509.3 L643.9,513.0 L640.9,516.8 L637.7,520.7 L634.2,524.7 L630.5,528.8 L626.5,532.9 L622.4,537.1 L618.1,541.2 L613.7,545.2 L609.2,549.2 L604.6,553.2 L599.9,557.0 L595.3,560.6 L590.6,564.1 L586.0,567.5 L581.4,570.6 L577.0,573.5 L572.6,576.2 L568.4,578.6 L564.4,580.8 L560.6,582.6 L557.0,584.2 L553.7,585.5 L550.6,586.4 L547.8,587.1 L545.3,587.4 L543.1,587.4 L541.3,587.0 L539.7,586.4 L538.6,585.4" fill="none" stroke="#505050" stroke-width="8" opacity="0.8"/>
<path d="M319.5,394.5 L523,599.5" stroke="#3a3a3a" stroke-width="1.3"/>
<ellipse cx="590.0" cy="520.0" rx="66.0" ry="30.0" transform="rotate(-40.0 590.0 520.0)" fill="#4a4a4a" opacity="0.45"/>
<ellipse cx="586.0" cy="515.0" rx="60.0" ry="29.0" transform="rotate(-40.0 586.0 515.0)" fill="#262626" opacity="0.55"/>
<ellipse cx="580.0" cy="505.0" rx="48.0" ry="22.0" transform="rotate(-40.0 580.0 505.0)" fill="#1e1e1e" opacity="0.85"/>
<path d="M538,482 Q540,472 552,470 L572,468 Q582,470 588,480 L592,500 Q590,515 580,522 L560,524 Q546,522 542,512 Z" fill="#080808"/>
<ellipse cx="582.0" cy="505.0" rx="30.0" ry="14.0" transform="rotate(-40.0 582.0 505.0)" fill="#0a0a0a" opacity="0.8"/>
<polygon points="289.7,362.2 288.0,359.7 286.8,356.7 286.1,353.3 286.0,349.5 286.4,345.4 287.4,340.9 288.9,336.1 290.9,331.0 293.4,325.7 296.5,320.1 300.0,314.4 303.9,308.5 308.3,302.5 313.1,296.4 318.3,290.3 323.8,284.2 329.6,278.1 335.7,272.1 342.1,266.1 348.6,260.4 355.3,254.8 362.1,249.5 369.0,244.3 375.9,239.5 382.8,235.0 389.6,230.8 396.4,227.0 403.0,223.6 409.4,220.6 415.6,218.0 421.6,215.8 427.3,214.2 432.6,212.9 437.6,212.2 442.2,211.9 446.3,212.1 450.0,212.8 453.3,214.0 456.0,215.7 458.3,217.8 476.9,235.7 478.7,238.2 479.9,241.1 480.5,244.5 480.5,248.3 480.1,252.5 479.0,257.1 477.4,262.0 475.3,267.3 472.6,272.8 469.5,278.6 465.8,284.6 461.7,290.8 457.1,297.2 452.1,303.6 446.8,310.1 441.1,316.7 435.0,323.2 428.7,329.6 422.2,336.0 415.4,342.2 408.5,348.3 401.5,354.1 394.4,359.7 387.3,365.0 380.2,370.0 373.2,374.7 366.2,379.0 359.5,382.9 352.9,386.3 346.5,389.3 340.4,391.9 334.6,393.9 329.2,395.5 324.1,396.6 319.4,397.1 315.2,397.2 311.4,396.7 308.1,395.7 305.3,394.3 303.1,392.3" fill="url(#neckg)" />
<path d="M477.4,237.1 L478.8,239.6 L479.7,242.6 L480.1,246.1 L480.0,249.9 L479.3,254.1 L478.1,258.7 L476.4,263.6 L474.1,268.8 L471.4,274.2 L468.2,279.9 L464.5,285.8 L460.4,291.8 L455.9,298.0 L451.0,304.3 L445.7,310.6 L440.1,317.0 L434.2,323.3 L428.0,329.6 L421.7,335.8 L415.1,341.9 L408.4,347.8 L401.6,353.5 L394.7,358.9 L387.7,364.1 L380.8,369.0 L374.0,373.6 L367.2,377.9 L360.6,381.7 L354.1,385.2 L347.9,388.2 L341.9,390.8 L336.2,392.9 L330.8,394.6 L325.8,395.8 L321.1,396.5 L316.9,396.8 L313.0,396.5 L309.7,395.8 L306.8,394.6 L304.4,392.9" fill="none" stroke="#1e1e1e" stroke-width="2.2"/>
<path d="M466.7,224.8 L468.1,227.5 L468.9,230.6 L469.2,234.0 L469.1,237.9 L468.4,242.1 L467.2,246.6 L465.5,251.4 L463.3,256.5 L460.7,261.8 L457.5,267.3 L454.0,272.9 L450.0,278.7 L445.6,284.7 L440.9,290.7 L435.8,296.7 L430.4,302.7 L424.7,308.7 L418.8,314.7 L412.6,320.5 L406.2,326.2 L399.7,331.8 L393.1,337.1 L386.5,342.2 L379.8,347.1 L373.1,351.6 L366.4,355.9 L359.8,359.8 L353.4,363.3 L347.1,366.5 L341.0,369.3 L335.1,371.6 L329.5,373.6 L324.2,375.0 L319.3,376.1 L314.6,376.7 L310.4,376.8 L306.5,376.5 L303.1,375.7 L300.2,374.5 L297.7,372.8" fill="none" stroke="#2a2a2a" stroke-width="1.6"/>
<path d="M464.0,222.3 L465.8,224.9 L467.0,227.8 L467.7,231.2 L467.8,235.0 L467.4,239.2 L466.4,243.7 L464.9,248.5 L462.9,253.7 L460.4,259.0 L457.4,264.7 L453.9,270.5 L449.9,276.4 L445.5,282.5 L440.7,288.7 L435.5,294.9 L430.0,301.1 L424.1,307.3 L418.0,313.4 L411.6,319.4 L405.1,325.2 L398.4,330.9 L391.6,336.4 L384.7,341.6 L377.7,346.5 L370.8,351.1 L363.9,355.4 L357.2,359.3 L350.5,362.8 L344.1,365.9 L337.8,368.6 L331.8,370.8 L326.2,372.5 L320.8,373.8 L315.8,374.6 L311.2,375.0 L307.0,374.8 L303.3,374.1 L300.0,373.0 L297.2,371.4 L295.0,369.3" fill="none" stroke="#6a6a6a" stroke-width="1.2"/>
<path d="M469.0,226.0 L470.7,228.5 L471.9,231.4 L472.6,234.8 L472.7,238.6 L472.3,242.7 L471.3,247.3 L469.8,252.1 L467.8,257.3 L465.2,262.7 L462.2,268.3 L458.7,274.2 L454.7,280.2 L450.3,286.3 L445.5,292.6 L440.3,298.9 L434.7,305.2 L428.9,311.4 L422.8,317.6 L416.4,323.8 L409.8,329.7 L403.1,335.5 L396.3,341.1 L389.4,346.4 L382.4,351.4 L375.5,356.2 L368.6,360.6 L361.9,364.6 L355.2,368.2 L348.8,371.4 L342.5,374.2 L336.5,376.5 L330.9,378.4 L325.5,379.8 L320.5,380.7 L315.9,381.1 L311.7,381.0 L308.0,380.4 L304.7,379.3 L302.0,377.8 L299.7,375.8" fill="none" stroke="#5a5a5a" stroke-width="1.2"/>
<ellipse cx="374.0" cy="290.0" rx="111.0" ry="39.0" transform="rotate(-40.6 374.0 290.0)" fill="#222" />
<ellipse cx="374.0" cy="290.0" rx="109.3" ry="37.3" transform="rotate(-40.6 374.0 290.0)" fill="url(#rimband)" />
<path d="M292.5,357.5 L291.6,354.9 L291.2,352.0 L291.2,348.8 L291.7,345.2 L292.6,341.4 L294.0,337.2 L295.9,332.8 L298.1,328.2 L300.8,323.4 L303.9,318.4 L307.4,313.3 L311.3,308.0 L315.5,302.7 L320.1,297.3 L324.9,291.8 L330.0,286.4 L335.4,281.0 L341.0,275.6 L346.8,270.3 L352.7,265.2 L358.7,260.2 L364.9,255.3 L371.1,250.7 L377.3,246.3 L383.5,242.1 L389.7,238.2 L395.7,234.6 L401.7,231.3 L407.5,228.4 L413.2,225.8 L418.6,223.5 L423.8,221.7 L428.7,220.2 L433.3,219.1 L437.6,218.4 L441.6,218.1 L445.2,218.2 L448.4,218.7 L451.2,219.6 L453.6,220.9" fill="none" stroke="#3a3a3a" stroke-width="1.3"/>
<path d="M295.8,356.4 L295.1,354.1 L294.7,351.4 L294.8,348.3 L295.4,345.0 L296.4,341.3 L297.8,337.4 L299.7,333.3 L301.9,328.9 L304.6,324.3 L307.7,319.6 L311.1,314.7 L314.9,309.7 L319.0,304.5 L323.5,299.4 L328.2,294.1 L333.2,288.9 L338.4,283.7 L343.8,278.5 L349.4,273.5 L355.1,268.5 L361.0,263.6 L366.9,258.9 L372.9,254.4 L378.9,250.1 L384.8,246.1 L390.8,242.3 L396.6,238.7 L402.3,235.5 L407.9,232.6 L413.3,230.0 L418.5,227.8 L423.4,225.9 L428.1,224.3 L432.5,223.2 L436.6,222.4 L440.3,222.0 L443.7,222.0 L446.8,222.4 L449.4,223.2 L451.6,224.4" fill="none" stroke="#444" stroke-width="1.3"/>
<path d="M299.9,354.7 L299.2,352.5 L298.9,350.0 L299.1,347.1 L299.7,344.0 L300.7,340.6 L302.1,336.9 L303.9,333.0 L306.1,328.8 L308.7,324.5 L311.7,320.0 L315.0,315.4 L318.7,310.6 L322.6,305.8 L326.9,300.8 L331.4,295.9 L336.2,290.9 L341.2,285.9 L346.4,281.0 L351.8,276.1 L357.2,271.4 L362.8,266.7 L368.5,262.3 L374.2,257.9 L379.9,253.8 L385.6,249.9 L391.2,246.2 L396.8,242.8 L402.2,239.7 L407.5,236.9 L412.7,234.4 L417.6,232.2 L422.3,230.3 L426.7,228.8 L430.9,227.7 L434.7,226.9 L438.3,226.4 L441.5,226.4 L444.3,226.7 L446.8,227.4 L448.8,228.4" fill="none" stroke="#2a2a2a" stroke-width="1.3"/>
<ellipse cx="376.0" cy="295.5" rx="93.0" ry="27.5" transform="rotate(-39.5 376.0 295.5)" fill="url(#openg)" />
<polygon points="447.1,235.6 448.5,237.4 449.4,239.5 449.8,241.9 449.8,244.7 449.3,247.9 448.3,251.3 446.8,255.0 444.9,259.0 442.6,263.3 439.8,267.7 436.6,272.3 433.0,277.1 429.0,281.9 424.7,286.9 420.1,291.9 415.2,297.0 410.1,302.0 404.7,307.0 399.2,311.9 393.5,316.7 387.7,321.4 381.8,325.9 375.9,330.2 369.9,334.3 364.1,338.1 358.3,341.7 352.6,345.0 347.0,347.9 341.7,350.5 336.5,352.8 331.7,354.7 327.1,356.2 322.8,357.3 318.8,358.0 315.3,358.3 312.1,358.2 309.3,357.7 307.0,356.8 305.1,355.6 303.7,353.9 289.3,360.8 291.3,363.2 293.9,365.0 297.0,366.4 300.6,367.2 304.7,367.6 309.2,367.5 314.1,366.9 319.4,365.7 325.1,364.1 331.1,362.0 337.3,359.5 343.8,356.5 350.5,353.1 357.3,349.2 364.3,345.0 371.3,340.4 378.3,335.5 385.3,330.4 392.2,324.9 399.1,319.2 405.7,313.4 412.1,307.4 418.3,301.2 424.3,295.0 429.8,288.8 435.1,282.6 439.9,276.4 444.3,270.3 448.3,264.4 451.8,258.6 454.7,253.0 457.2,247.6 459.1,242.6 460.5,237.8 461.3,233.3 461.6,229.3 461.3,225.6 460.4,222.3 458.9,219.5 457.0,217.1" fill="url(#frontband)" />
<path d="M447.8,236.3 L448.9,238.2 L449.6,240.4 L449.9,242.9 L449.7,245.8 L449.0,249.0 L447.9,252.4 L446.3,256.1 L444.3,260.1 L441.9,264.3 L439.1,268.7 L435.9,273.2 L432.3,277.9 L428.4,282.7 L424.2,287.6 L419.6,292.5 L414.8,297.4 L409.8,302.3 L404.5,307.2 L399.1,312.0 L393.5,316.7 L387.8,321.3 L382.1,325.7 L376.3,329.9 L370.5,334.0 L364.7,337.7 L359.0,341.3 L353.4,344.5 L348.0,347.4 L342.7,350.1 L337.6,352.3 L332.8,354.3 L328.2,355.8 L324.0,357.0 L320.0,357.8 L316.4,358.3 L313.2,358.3 L310.3,358.0 L307.9,357.2 L305.8,356.1 L304.2,354.7" fill="none" stroke="#111" stroke-width="1.8"/>
<path d="M451.7,243.3 L452.1,245.6 L452.2,248.2 L451.8,251.1 L451.1,254.2 L450.0,257.5 L448.5,261.1 L446.7,264.8 L444.5,268.8 L442.0,272.8 L439.1,277.0 L436.0,281.4 L432.5,285.8 L428.8,290.3 L424.8,294.8 L420.5,299.4 L416.1,304.0 L411.4,308.5 L406.6,313.0 L401.7,317.4 L396.6,321.8 L391.4,326.0 L386.1,330.1 L380.8,334.0 L375.5,337.8 L370.2,341.3 L365.0,344.7 L359.8,347.8 L354.7,350.6 L349.7,353.3 L344.9,355.6 L340.2,357.6 L335.8,359.4 L331.5,360.8 L327.5,361.9 L323.7,362.7 L320.3,363.2 L317.1,363.4 L314.2,363.2 L311.7,362.7 L309.4,361.9" fill="none" stroke="#555" stroke-width="1"/>
<path d="M431,416 Q426,421 431,426 L455,453 Q460,458 466,454 L498,428 Q503.5,423 499,418 L473,392 Q468,388.5 462,392 Z" fill="#2e2e2e" stroke="#f4f4f4" stroke-width="1.4"/>
<polygon points="442.0,428.0 445.0,417.0 462.0,432.0 480.0,422.0 480.0,434.0 460.0,449.0" fill="#e6e6e6" />
<polygon points="464.0,412.0 468.0,398.5 479.0,410.0 479.0,420.0 475.0,423.0" fill="#e6e6e6" />
<path d="M84.5,158.0 C84.0,154.3 89.9,147.9 92.0,145.0 C94.1,142.1 92.2,140.8 97.0,140.5 C101.8,140.2 116.2,141.4 120.5,143.0 C124.8,144.6 122.2,147.8 122.5,150.0 C122.8,152.2 125.8,153.3 122.0,156.0 C118.2,158.7 104.5,164.2 100.0,166.0 C95.5,167.8 97.6,168.3 95.0,167.0 C92.4,165.7 85.0,161.7 84.5,158.0Z" fill="#2c2c2c"/>
<polygon points="95.0,148.0 100.0,143.0 117.0,145.0 111.0,151.0 100.0,153.0" fill="#b8b8b8" />
<polygon points="100.0,153.0 111.0,151.0 117.0,145.0 120.0,148.0 104.0,157.0" fill="#1e1e1e" />
<path d="M140.4,191.3 C141.4,190.4 139.2,189.7 138.9,188.7 C138.5,187.7 138.3,186.6 138.2,185.4 C138.1,184.2 138.2,182.9 138.4,181.4 C138.7,180.0 139.0,178.5 139.5,176.8 C140.0,175.2 140.7,173.5 141.5,171.7 C142.3,169.8 143.2,167.9 144.2,166.0 C145.3,164.0 146.5,161.9 147.8,159.8 C149.1,157.6 150.6,155.4 152.2,153.2 C153.7,150.9 155.4,148.6 157.2,146.3 C159.0,143.9 161.0,141.5 163.0,139.1 C165.0,136.6 167.1,134.2 169.3,131.7 C171.5,129.2 173.9,126.7 176.2,124.2 C178.6,121.7 181.1,119.2 183.6,116.7 C186.1,114.1 188.7,111.6 191.4,109.2 C194.0,106.7 196.7,104.2 199.5,101.8 C202.2,99.4 205.0,97.0 207.8,94.6 C210.6,92.3 213.4,89.9 216.3,87.7 C219.1,85.4 221.9,83.2 224.8,81.1 C227.6,79.0 230.5,76.9 233.3,75.0 C236.1,73.0 238.9,71.1 241.7,69.3 C244.4,67.5 247.2,65.7 249.8,64.1 C252.5,62.5 255.2,61.0 257.7,59.5 C260.3,58.1 262.8,56.8 265.3,55.6 C267.7,54.4 270.1,53.3 272.3,52.3 C274.6,51.4 276.8,50.5 278.9,49.8 C281.0,49.1 283.0,48.4 284.8,48.0 C286.7,47.5 288.5,47.1 290.2,46.9 C291.8,46.7 293.3,46.5 294.8,46.6 C296.2,46.6 297.5,46.7 298.6,47.0 C299.8,47.3 300.3,48.1 301.7,48.2 C303.0,48.4 304.1,46.6 306.8,48.0 C309.5,49.4 314.0,53.0 317.6,56.4 C321.2,59.8 325.7,64.8 328.4,68.4 C331.1,72.0 333.0,74.8 333.8,78.0 C334.6,81.2 334.1,84.2 333.2,87.6 C332.3,91.0 331.7,93.0 328.4,98.4 C325.1,103.8 318.7,113.1 313.6,120.0 C308.5,126.9 302.9,133.7 297.6,140.0 C292.3,146.3 287.6,151.8 282.0,158.0 C276.4,164.2 270.0,171.5 264.0,177.2 C258.0,182.9 253.2,185.3 246.0,192.2 C238.8,199.1 229.2,212.0 221.0,218.4 C212.8,224.8 204.0,227.4 197.0,230.4 C190.0,233.4 184.6,235.2 179.0,236.4 C173.4,237.6 167.4,238.2 163.4,237.6 C159.4,237.0 158.4,235.8 155.0,232.8 C151.6,229.8 146.8,224.4 143.0,219.6 C139.2,214.8 133.9,208.3 132.2,204.0 C130.4,199.7 131.1,196.1 132.5,194.0 C133.9,191.9 139.3,192.2 140.4,191.3Z" fill="url(#capsil)"/>
<path d="M301.6,86.4 L299.1,90.7 L296.3,95.1 L293.2,99.7 L289.8,104.3 L286.2,109.0 L282.3,113.8 L278.2,118.7 L273.8,123.5 L269.3,128.4 L264.6,133.3 L259.7,138.1 L254.6,142.9 L249.4,147.6 L244.2,152.2 L238.8,156.8 L233.4,161.2 L227.9,165.4 L222.4,169.5 L216.9,173.4 L211.5,177.2 L206.0,180.7 L200.7,184.0 L195.4,187.0 L190.3,189.9 L185.3,192.4 L180.4,194.7 L175.7,196.7 L171.2,198.5 L166.9,199.9 L162.8,201.1 L159.0,201.9 L155.4,202.4 L152.1,202.7 L149.1,202.6 L146.3,202.2 L143.9,201.5 L141.8,200.5 L140.0,199.2 L138.6,197.6 L137.5,195.8" fill="none" stroke="#2c2c2c" stroke-width="6"/>
<path d="M299.8,96.3 L297.1,100.6 L294.1,105.0 L290.9,109.5 L287.4,114.1 L283.7,118.7 L279.8,123.4 L275.7,128.0 L271.4,132.7 L266.9,137.4 L262.3,142.0 L257.5,146.6 L252.6,151.1 L247.6,155.6 L242.5,159.9 L237.4,164.2 L232.1,168.3 L226.9,172.2 L221.6,176.0 L216.4,179.7 L211.2,183.1 L206.0,186.4 L200.8,189.5 L195.8,192.3 L190.9,194.9 L186.0,197.3 L181.3,199.4 L176.8,201.3 L172.4,202.9 L168.2,204.3 L164.2,205.3 L160.4,206.1 L156.8,206.7 L153.4,206.9 L150.3,206.9 L147.5,206.6 L144.9,206.0 L142.7,205.1 L140.7,204.0 L139.0,202.6 L137.6,200.9" fill="none" stroke="#1a1a1a" stroke-width="1.5"/>
<ellipse cx="222.5" cy="121.6" rx="109.0" ry="30.5" transform="rotate(-40.9 222.5 121.6)" fill="#141414" />
<ellipse cx="222.0" cy="120.6" rx="108.0" ry="29.0" transform="rotate(-40.9 222.0 120.6)" fill="url(#capdome)" />
<path d="M143.0,180.0 C140.3,175.8 146.7,166.5 149.0,160.0 C151.3,153.5 154.3,146.8 157.0,141.0 C159.7,135.2 162.5,130.2 165.0,125.0 C167.5,119.8 168.5,114.2 172.0,110.0 C175.5,105.8 180.5,99.2 186.0,100.0 C191.5,100.8 204.3,105.0 205.0,115.0 C205.7,125.0 196.7,148.3 190.0,160.0 C183.3,171.7 172.8,181.7 165.0,185.0 C157.2,188.3 145.7,184.2 143.0,180.0Z" fill="url(#capdome)"/>
<polygon points="180.2,94.7 179.6,93.8 179.1,92.8 178.8,91.7 178.7,90.5 178.6,89.2 178.8,87.8 179.1,86.3 179.6,84.7 180.2,83.1 180.9,81.4 181.8,79.7 182.9,77.9 184.0,76.1 185.3,74.3 186.7,72.5 188.2,70.7 189.8,68.9 191.5,67.2 193.3,65.5 195.1,63.8 197.0,62.2 199.0,60.7 200.9,59.3 202.9,57.9 204.9,56.7 206.9,55.5 208.9,54.5 210.8,53.6 212.7,52.8 214.5,52.2 216.3,51.7 218.0,51.3 219.6,51.1 221.2,51.0 222.6,51.0 223.9,51.2 225.0,51.5 226.1,52.0 227.0,52.6 227.8,53.3 250.8,81.3 251.4,82.2 251.9,83.2 252.2,84.3 252.3,85.5 252.4,86.8 252.2,88.2 251.9,89.7 251.4,91.3 250.8,92.9 250.1,94.6 249.2,96.3 248.1,98.1 247.0,99.9 245.7,101.7 244.3,103.5 242.8,105.3 241.2,107.1 239.5,108.8 237.7,110.5 235.9,112.2 234.0,113.8 232.0,115.3 230.1,116.7 228.1,118.1 226.1,119.3 224.1,120.5 222.1,121.5 220.2,122.4 218.3,123.2 216.5,123.8 214.7,124.3 213.0,124.7 211.4,124.9 209.8,125.0 208.4,125.0 207.1,124.8 206.0,124.5 204.9,124.0 204.0,123.4 203.2,122.7" fill="url(#spoutg)" />
<ellipse cx="204.0" cy="74.0" rx="31.5" ry="13.5" transform="rotate(-41.0 204.0 74.0)" fill="#2c2c2c" stroke="#4a4a4a" stroke-width="1"/>
<ellipse cx="205.0" cy="74.8" rx="28.0" ry="10.8" transform="rotate(-41.0 205.0 74.8)" fill="#0a0a0a" />
<path d="M43.0,84.0 C47.3,81.7 52.2,80.3 60.0,79.0 C67.8,77.7 81.2,76.5 90.0,76.0 C98.8,75.5 103.8,75.7 113.0,76.0 C122.2,76.3 134.5,77.5 145.0,78.0 C155.5,78.5 173.5,74.5 176.0,79.0 C178.5,83.5 165.7,96.5 160.0,105.0 C154.3,113.5 147.3,125.3 142.0,130.0 C136.7,134.7 135.0,133.2 128.0,133.0 C121.0,132.8 109.0,130.5 100.0,129.0 C91.0,127.5 82.7,125.8 74.0,124.0 C65.3,122.2 54.7,120.0 48.0,118.0 C41.3,116.0 36.9,114.2 34.0,112.0 C31.1,109.8 30.5,108.2 30.5,105.0 C30.5,101.8 31.9,96.5 34.0,93.0 C36.1,89.5 38.7,86.3 43.0,84.0Z" fill="#242424"/>
<path d="M30.5,104.0 C30.7,103.2 31.1,108.8 34.0,111.0 C36.9,113.2 41.3,115.0 48.0,117.0 C54.7,119.0 65.3,121.2 74.0,123.0 C82.7,124.8 91.0,126.5 100.0,128.0 C109.0,129.5 121.0,131.7 128.0,132.0 C135.0,132.3 139.3,129.0 142.0,130.0 C144.7,131.0 146.3,136.3 144.0,138.0 C141.7,139.7 135.3,140.3 128.0,140.0 C120.7,139.7 109.3,137.5 100.0,136.0 C90.7,134.5 81.3,133.0 72.0,131.0 C62.7,129.0 50.5,126.5 44.0,124.0 C37.5,121.5 35.2,119.3 33.0,116.0 C30.8,112.7 30.3,104.8 30.5,104.0Z" fill="#1a1a1a"/>
<path d="M118.0,84.0 C127.7,81.3 164.7,79.3 170.0,84.0 C175.3,88.7 155.7,105.3 150.0,112.0 C144.3,118.7 142.7,122.5 136.0,124.0 C129.3,125.5 114.0,125.0 110.0,121.0 C106.0,117.0 110.7,106.2 112.0,100.0 C113.3,93.8 108.3,86.7 118.0,84.0Z" fill="#2c2c2c"/>
<ellipse cx="80.0" cy="89.0" rx="35.5" ry="27.5" transform="rotate(8.0 80.0 89.0)" fill="#1c1c1c" />
<ellipse cx="80.0" cy="88.0" rx="31.0" ry="23.0" transform="rotate(8.0 80.0 88.0)" fill="#0e0e0e" />
<ellipse cx="80.8" cy="95.5" rx="23.4" ry="18.9" transform="rotate(0.0 80.8 95.5)" fill="#a8a8a8" />
<ellipse cx="80.8" cy="93.4" rx="23.4" ry="18.9" transform="rotate(0.0 80.8 93.4)" fill="#c4c4c4" />
<ellipse cx="80.8" cy="93.4" rx="20.5" ry="16.0" transform="rotate(0.0 80.8 93.4)" fill="#d6d6d6" />
<ellipse cx="80.2" cy="90.4" rx="16.5" ry="11.6" transform="rotate(0.0 80.2 90.4)" fill="#2c2c2c" />
<polygon points="190.6,75.2 179.4,66.8 131.4,129.8 142.6,138.2" fill="#1a1a1a" />
<polygon points="181.5,68.5 178.8,66.6 131.0,129.5 134.0,131.6" fill="#3a3a3a" />
<ellipse cx="185.0" cy="71.0" rx="7.0" ry="4.2" transform="rotate(-53.0 185.0 71.0)" fill="#2e2e2e" />
<path d="M121.0,142.0 C121.7,139.0 125.2,137.5 128.0,136.0 C130.8,134.5 133.9,132.8 137.5,133.0 C141.1,133.2 146.5,132.2 149.5,137.5 C152.5,142.8 155.4,158.8 155.5,164.5 C155.6,170.2 151.8,170.2 150.0,172.0 C148.2,173.8 147.3,175.8 145.0,175.0 C142.7,174.2 139.5,170.5 136.0,167.0 C132.5,163.5 126.5,158.2 124.0,154.0 C121.5,149.8 120.3,145.0 121.0,142.0Z" fill="#2e2e2e"/>
<path d="M137.5,133.0 C138.1,131.8 146.4,132.5 149.5,137.5 C152.6,142.5 155.9,157.2 156.0,163.0 C156.1,168.8 151.8,170.0 150.0,172.0 C148.2,174.0 145.0,176.2 145.0,175.0 C145.0,173.8 149.8,170.0 150.0,165.0 C150.2,160.0 148.1,150.3 146.0,145.0 C143.9,139.7 136.9,134.2 137.5,133.0Z" fill="#1a1a1a"/>
<polygon points="157.0,137.0 164.0,128.0 160.0,145.0" fill="#ffffff" />
<path d="M253.5,210.0 C254.9,211.6 258.4,216.7 262.0,219.5 C265.6,222.3 270.3,225.1 275.0,227.0 C279.7,228.9 285.3,230.7 290.0,231.0 C294.7,231.3 298.8,230.5 303.0,229.0 C307.2,227.5 311.9,224.7 315.0,222.0 C318.1,219.3 319.9,216.2 321.7,213.0 C323.4,209.8 324.9,205.8 325.5,202.5 C326.1,199.2 325.7,196.4 325.0,193.0 C324.3,189.6 323.1,185.4 321.5,182.0 C319.9,178.6 317.5,175.1 315.5,172.5 C313.5,169.9 310.7,167.5 309.7,166.5" fill="none" stroke="#111" stroke-width="4" stroke-linecap="round"/>
<circle cx="253.5" cy="210" r="4.2" fill="#111"/><circle cx="309.7" cy="166.5" r="4.2" fill="#111"/>
<ellipse cx="286.9" cy="197.3" rx="100.5" ry="29.5" transform="rotate(-42.0 286.9 197.3)" fill="none" stroke="#bdbdbd" stroke-width="10"/>
<ellipse cx="286.9" cy="197.3" rx="100.5" ry="29.5" transform="rotate(-42.0 286.9 197.3)" fill="none" stroke="#d2d2d2" stroke-width="6"/>
<path d="M381.0,216.0 C380.6,215.1 380.0,211.8 378.5,210.5 C377.0,209.2 374.6,208.6 372.0,208.3 C369.4,208.0 366.0,208.0 363.0,208.5 C360.0,209.0 357.5,209.4 354.0,211.5 C350.5,213.6 346.0,217.8 342.0,221.0 C338.0,224.2 334.0,228.0 330.0,231.0 C326.0,234.0 321.8,236.5 318.0,239.0 C314.2,241.5 311.0,243.6 307.5,246.0 C304.0,248.4 299.8,250.8 297.0,253.5 C294.2,256.2 292.4,259.2 291.0,262.5 C289.6,265.8 288.8,270.2 288.5,273.0 C288.2,275.8 288.8,277.2 289.5,279.0 C290.2,280.8 292.0,282.8 292.5,283.5" fill="none" stroke="#111" stroke-width="4.5" stroke-linecap="round"/>
<path d="M298,206 L343.5,255" stroke="#111" stroke-width="6" stroke-linecap="round"/>
<circle cx="297.7" cy="205" r="6.3" fill="#111"/>
<ellipse cx="343.5" cy="256.5" rx="12.0" ry="6.5" transform="rotate(-40.0 343.5 256.5)" fill="#1a1a1a" />
<ellipse cx="342.5" cy="255.5" rx="8.0" ry="4.0" transform="rotate(-40.0 342.5 255.5)" fill="#0a0a0a" />
<path d="M344,257 L360,276" stroke="#f0f0f0" stroke-width="2"/>
<path d="M344,257 L360,276" stroke="#333" stroke-width="0.7"/>
<polyline points="467.0,90.0 391.7,90.0 364.7,128.5" fill="none" stroke="#4a72d8" stroke-width="1.6"/>
<polyline points="495.0,173.0 409.0,173.0 384.2,209.5" fill="none" stroke="#4a72d8" stroke-width="1.6"/>
<polyline points="69.0,113.0 69.0,228.0" fill="none" stroke="#4a72d8" stroke-width="1.6"/>
<polyline points="269.7,521.7 353.7,521.7 387.8,465.8" fill="none" stroke="#4a72d8" stroke-width="1.6"/>
<polyline points="810.0,469.2 726.5,469.2 682.0,538.0" fill="none" stroke="#4a72d8" stroke-width="1.6"/>
<polyline points="500.4,756.0 584.7,756.0 618.8,699.6" fill="none" stroke="#4a72d8" stroke-width="1.6"/>
<polyline points="662.0,932.4 834.0,932.4" fill="none" stroke="#4a72d8" stroke-width="1.6"/>
<circle cx="364.7" cy="128.5" r="3.8" fill="#3a6cf0"/>
<circle cx="384.2" cy="209.5" r="3.8" fill="#3a6cf0"/>
<circle cx="69" cy="113" r="3.8" fill="#3a6cf0"/>
<circle cx="387.8" cy="465.8" r="3.8" fill="#3a6cf0"/>
<circle cx="682" cy="538" r="3.8" fill="#3a6cf0"/>
<circle cx="618.8" cy="699.6" r="3.8" fill="#3a6cf0"/>
<circle cx="834" cy="932.4" r="3.8" fill="#3a6cf0"/>
<text x="473" y="97" textLength="141" lengthAdjust="spacingAndGlyphs">Sealing ring</text>
<text x="502.4" y="182.4" textLength="197.6" lengthAdjust="spacingAndGlyphs">Extended blades</text>
<text x="502" y="212" textLength="273" lengthAdjust="spacingAndGlyphs">Prevernt sedimentation</text>
<text x="14.5" y="262.6" textLength="81" lengthAdjust="spacingAndGlyphs">Sealed</text>
<text x="14.5" y="292" textLength="194.2" lengthAdjust="spacingAndGlyphs">desiornever leak</text>
<text x="97.9" y="508.6" textLength="218.1" lengthAdjust="spacingAndGlyphs">Tnitan copolyester</text>
<text x="98" y="538.6" textLength="167.6" lengthAdjust="spacingAndGlyphs">100%BPA free</text>
<text x="822.3" y="475.6" textLength="109.7" lengthAdjust="spacingAndGlyphs">LED light</text>
<text x="226.5" y="747.4" textLength="275" lengthAdjust="spacingAndGlyphs">IPX5 waterproof design</text>
<text x="226.5" y="778" textLength="248" lengthAdjust="spacingAndGlyphs">high capacity battery</text>
<text x="502.4" y="935" textLength="153.3" lengthAdjust="spacingAndGlyphs">Non-slip pad</text>
</svg></body></html>
